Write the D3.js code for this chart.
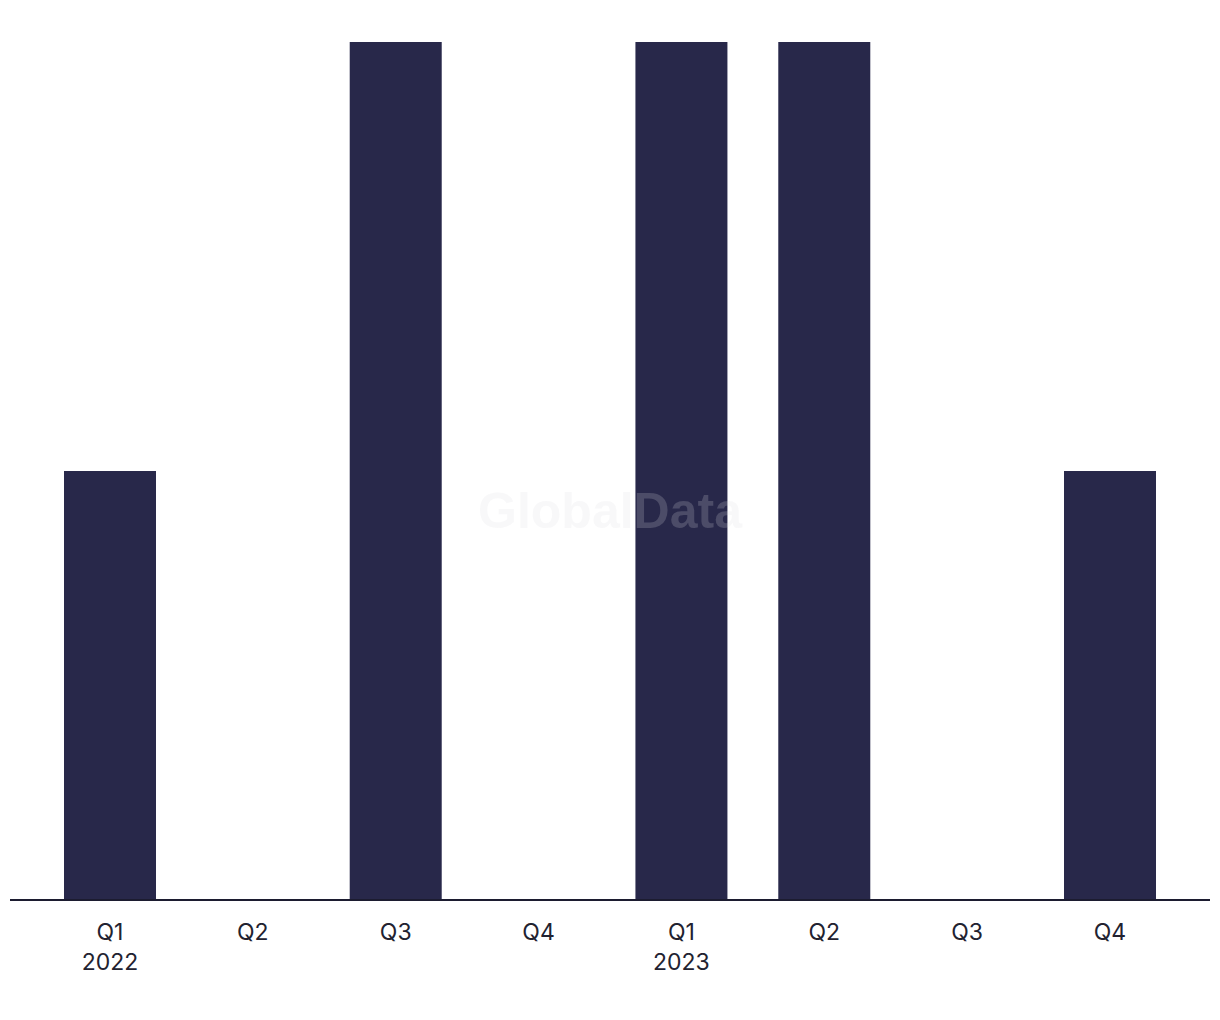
<!DOCTYPE html>
<html><head><meta charset="utf-8">
<script src="https://cdn.jsdelivr.net/npm/d3@7"></script>
<style>body{margin:0;background:#fff;}svg{display:block;}</style>
</head><body>
<svg id="chart" width="1220" height="1020"></svg>
<script>
const quarters = ["Q1","Q2","Q3","Q4","Q1","Q2","Q3","Q4"];
const years = ["2022","","","","2023","","",""];
const values = [1,0,2,0,2,2,0,1];
const yMax = 2;

const svg = d3.select("#chart");
const baseY = 900, topY = 42;
const x = d3.scaleBand().domain(d3.range(values.length))
  .range([38.57, 1181.43]).paddingInner(0.356).paddingOuter(0.178);
const y = d3.scaleLinear().domain([0, yMax]).range([baseY, topY]);

svg.append("g").selectAll("rect").data(values).join("rect")
  .attr("x", (d,i) => x(i)).attr("width", x.bandwidth())
  .attr("y", d => y(d)).attr("height", d => baseY - y(d))
  .attr("fill", "#28284a");

svg.append("line").attr("x1", 10).attr("x2", 1210)
  .attr("y1", baseY).attr("y2", baseY)
  .attr("stroke", "#1c1c30").attr("stroke-width", 2);

const lbl = svg.append("g").attr("font-family", "Inter, 'Liberation Sans', Arial, sans-serif")
  .attr("font-size", 23).attr("fill", "#222230").attr("text-anchor", "middle");
quarters.forEach((q,i) => {
  const cx = x(i) + x.bandwidth()/2;
  lbl.append("text").attr("x", cx).attr("y", 940).text(q);
  if (years[i]) lbl.append("text").attr("x", cx).attr("y", 970).text(years[i]);
});

svg.append("text").attr("x", 610).attr("y", 528).attr("text-anchor", "middle")
  .attr("font-family", "'Liberation Sans', Arial, sans-serif")
  .attr("font-weight", "bold").attr("font-size", 50)
  .attr("fill", "#dcdce0").attr("fill-opacity", 0.2).text("GlobalData");
</script>
</body></html>
